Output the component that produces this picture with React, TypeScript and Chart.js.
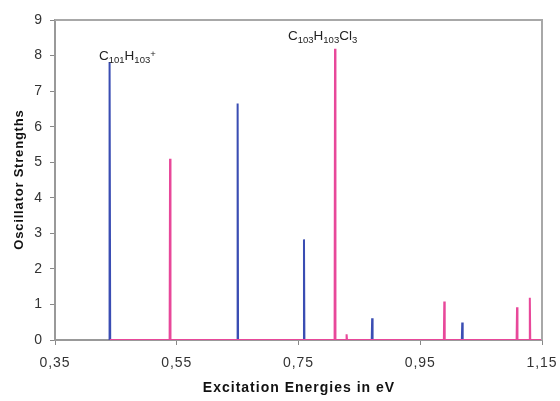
import React, { useEffect, useRef } from "react";
import { Chart, registerables } from "chart.js";

Chart.register(...registerables);

const xTickValues = [0.35, 0.55, 0.75, 0.95, 1.15];
const xTickLabels = ["0,35", "0,55", "0,75", "0,95", "1,15"];
const yTickValues = [0, 1, 2, 3, 4, 5, 6, 7, 8, 9];
const xTitle = "Excitation Energies in eV";
const yTitle = "Oscillator Strengths";

// C101H103+ (blue)
const blueEnergies = [0.44, 0.65, 0.759, 0.871, 1.019];
const blueStrengths = [7.82, 6.65, 2.83, 0.61, 0.49];
const blueRange = [0.44, 1.021];

// C103H103Cl3 (pink)
const pinkEnergies = [0.539, 0.81, 0.829, 0.9895, 1.109, 1.13];
const pinkStrengths = [5.1, 8.19, 0.16, 1.08, 0.92, 1.19];
const pinkRange = [0.44, 1.15];

const SPIKE_HALF = 0.0007;
const FONT = "Arial, 'Liberation Sans', sans-serif";

function spikes(energies: number[], strengths: number[], range: number[]) {
  const pts: { x: number; y: number }[] = [{ x: range[0], y: 0 }];
  energies.forEach((e, i) => {
    pts.push({ x: e - SPIKE_HALF, y: 0 });
    pts.push({ x: e, y: strengths[i] });
    pts.push({ x: e + SPIKE_HALF, y: 0 });
  });
  pts.push({ x: range[1], y: 0 });
  return pts;
}

type Part = { t: string; sub?: boolean; sup?: boolean };
const label1: Part[] = [
  { t: "C" },
  { t: "101", sub: true },
  { t: "H" },
  { t: "103", sub: true },
  { t: "+", sup: true },
];
const label2: Part[] = [
  { t: "C" },
  { t: "103", sub: true },
  { t: "H" },
  { t: "103", sub: true },
  { t: "Cl" },
  { t: "3", sub: true },
];

function drawFormula(ctx: CanvasRenderingContext2D, parts: Part[], x: number, y: number) {
  let cx = x;
  parts.forEach((p) => {
    ctx.font = p.sub || p.sup ? `9.5px ${FONT}` : `13.5px ${FONT}`;
    const dy = p.sub ? 3 : p.sup ? -3 : 0;
    ctx.fillText(p.t, cx, y + dy);
    cx += ctx.measureText(p.t).width;
  });
}

const annotPlugin = {
  id: "annot",
  beforeDraw(chart: any) {
    (chart.ctx as any).letterSpacing = "1px";
  },
  afterDatasetsDraw(chart: any) {
    const { ctx, chartArea, scales } = chart;
    ctx.save();
    ctx.strokeStyle = "#a8a8a8";
    ctx.lineWidth = 2;
    ctx.beginPath();
    ctx.moveTo(chartArea.left, chartArea.top);
    ctx.lineTo(chartArea.right, chartArea.top);
    ctx.lineTo(chartArea.right, chartArea.bottom);
    ctx.stroke();

    (ctx as any).letterSpacing = "0px";
    ctx.fillStyle = "#222";
    ctx.textBaseline = "alphabetic";
    ctx.textAlign = "left";
    const x = scales.x;
    const y = scales.y;
    drawFormula(ctx, label1, x.getPixelForValue(0.4223), y.getPixelForValue(7.875));
    drawFormula(ctx, label2, x.getPixelForValue(0.7327), y.getPixelForValue(8.437));

    // axis titles
    ctx.fillStyle = "#111";
    ctx.textAlign = "center";
    ctx.textBaseline = "middle";
    (ctx as any).letterSpacing = "1px";
    ctx.font = `bold 14px ${FONT}`;
    ctx.fillText(xTitle, (chartArea.left + chartArea.right) / 2 + 0.5, 388);
    ctx.save();
    ctx.translate(19, (chartArea.top + chartArea.bottom) / 2);
    ctx.rotate(-Math.PI / 2);
    (ctx as any).letterSpacing = "0.8px";
    ctx.font = `bold 13px ${FONT}`;
    ctx.fillText(yTitle, 0.4, 0);
    ctx.restore();
    ctx.restore();
  },
  afterDraw(chart: any) {
    (chart.ctx as any).letterSpacing = "0px";
  },
};

export default function App() {
  const ref = useRef<HTMLCanvasElement>(null);
  useEffect(() => {
    document.body.style.margin = "0";
    const chart = new Chart(ref.current!, {
      type: "scatter",
      data: {
        datasets: [
          {
            label: "C103H103Cl3",
            data: spikes(pinkEnergies, pinkStrengths, pinkRange),
            showLine: true,
            borderColor: "#e8489a",
            borderWidth: 2,
            pointRadius: 0,
            tension: 0,
          },
          {
            label: "C101H103+",
            data: spikes(blueEnergies, blueStrengths, blueRange),
            showLine: true,
            borderColor: "#3a4db3",
            borderWidth: 2,
            pointRadius: 0,
            tension: 0,
          },
        ],
      },
      options: {
        animation: false,
        responsive: false,
        devicePixelRatio: 1,
        layout: { padding: { left: 0, top: 20, right: 18, bottom: 0 } },
        plugins: { legend: { display: false }, tooltip: { enabled: false } },
        scales: {
          x: {
            type: "linear",
            min: 0.35,
            max: 1.15,
            afterBuildTicks: (axis: any) => {
              axis.ticks = xTickValues.map((v) => ({ value: v }));
            },
            afterFit: (axis: any) => {
              axis.height = 61;
              axis.paddingLeft = 0;
              axis.paddingRight = 0;
            },
            ticks: {
              callback: (v: any) => {
                const i = xTickValues.findIndex((t) => Math.abs(t - Number(v)) < 1e-6);
                return i >= 0 ? xTickLabels[i] : "";
              },
              color: "#333",
              font: { family: FONT, size: 14 },
              padding: 10,
              maxRotation: 0,
            },
            grid: {
              drawOnChartArea: false,
              drawTicks: true,
              tickLength: 5,
              color: "#888",
            },
            border: { color: "#999", width: 2 },
            title: { display: false },
          },
          y: {
            min: 0,
            max: 9,
            afterBuildTicks: (axis: any) => {
              axis.ticks = yTickValues.map((v) => ({ value: v }));
            },
            afterFit: (axis: any) => {
              axis.width = 55;
              axis.paddingTop = 0;
              axis.paddingBottom = 0;
            },
            ticks: {
              color: "#333",
              font: { family: FONT, size: 14 },
              padding: 7,
            },
            grid: {
              drawOnChartArea: false,
              drawTicks: true,
              tickLength: 5,
              color: "#888",
            },
            border: { color: "#999", width: 2 },
            title: { display: false },
          },
        },
      },
      plugins: [annotPlugin],
    } as any);
    return () => chart.destroy();
  }, []);
  return (
    <div style={{ position: "fixed", left: 0, top: 0, width: 560, height: 401, background: "#fff" }}>
      <canvas ref={ref} width={560} height={401} style={{ width: 560, height: 401 }} />
    </div>
  );
}
